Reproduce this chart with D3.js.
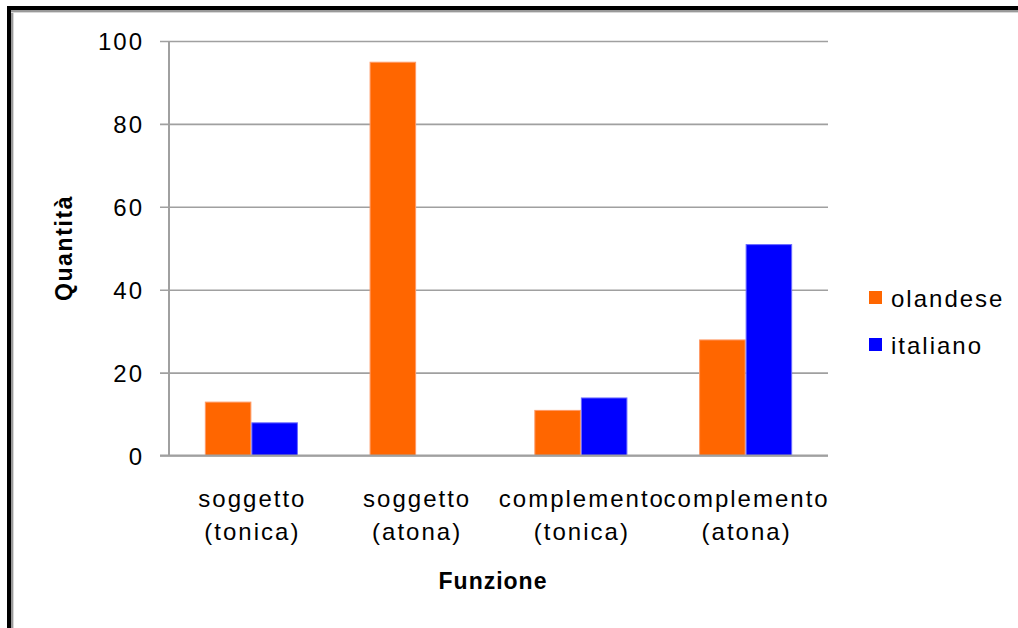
<!DOCTYPE html>
<html>
<head>
<meta charset="utf-8">
<script src="https://cdn.jsdelivr.net/npm/d3@7"></script>
<style>
  html, body { margin: 0; padding: 0; background: #fff; }
  svg { display: block; font-family: "Liberation Sans", Arial, sans-serif; }
</style>
</head>
<body>
<svg id="chart" width="1018" height="628"></svg>
<script>
// Occurrences per syntactic function, Dutch vs Italian
const categories = [
  ["soggetto", "(tonica)"],
  ["soggetto", "(atona)"],
  ["complemento", "(tonica)"],
  ["complemento", "(atona)"]
];
const seriesNames = ["olandese", "italiano"];
const olandese = [13, 95, 11, 28];
const italiano = [8, 0, 14, 51];
const yTicks = [0, 20, 40, 60, 80, 100];
const colors = ["#ff6600", "#0000ff"];
const strokes = ["#ff9a66", "#6a6aff"];

const svg = d3.select("#chart");

// outer frame (black edge with a grey inner line)
svg.append("rect").attr("x", 7).attr("y", 6).attr("width", 1011).attr("height", 4).attr("fill", "#000");
svg.append("rect").attr("x", 7).attr("y", 6).attr("width", 4).attr("height", 622).attr("fill", "#000");
svg.append("rect").attr("x", 11).attr("y", 10).attr("width", 1007).attr("height", 2).attr("fill", "#9a9a9a");
svg.append("rect").attr("x", 11).attr("y", 10).attr("width", 2).attr("height", 618).attr("fill", "#9a9a9a");
svg.append("rect").attr("x", 11).attr("y", 12).attr("width", 1007).attr("height", 1).attr("fill", "#d8d8d8");
svg.append("rect").attr("x", 13).attr("y", 12).attr("width", 1).attr("height", 616).attr("fill", "#d8d8d8");

const plot = { left: 169, right: 828, top: 41, bottom: 455.5 };

const x = d3.scaleBand()
  .domain(d3.range(categories.length))
  .range([plot.left, plot.right])
  .paddingInner(0.435)
  .paddingOuter(0.2175);

const xs = d3.scaleBand()
  .domain(seriesNames)
  .range([0, x.bandwidth()]);

const y = d3.scaleLinear().domain([0, 100]).range([plot.bottom, plot.top]);

// gridlines + ticks
const yAxis = d3.axisLeft(y).tickValues(yTicks).tickSize(plot.right - plot.left + 9).tickFormat(d3.format("d")).tickPadding(18);
const gy = svg.append("g").attr("transform", `translate(${plot.right},0)`).call(yAxis);
gy.select(".domain").remove();
gy.selectAll(".tick line").attr("stroke", "#a0a0a0").attr("stroke-width", 1.6);
gy.selectAll(".tick text")
  .attr("font-size", 24).attr("letter-spacing", 2).attr("fill", "#000")
  .attr("x", -(plot.right - 144)).attr("dy", "0.37em").attr("text-anchor", "end");

// bars
const data = categories.map((c, i) => ({ i, values: [olandese[i], italiano[i]] }));
const groups = svg.append("g").selectAll("g").data(data).join("g")
  .attr("transform", d => `translate(${x(d.i)},0)`);
groups.selectAll("rect")
  .data(d => d.values.map((v, k) => ({ v, k })).filter(e => e.v > 0))
  .join("rect")
  .attr("x", e => xs(seriesNames[e.k]) + 0.5)
  .attr("width", xs.bandwidth() - 1)
  .attr("y", e => y(e.v) + 0.5)
  .attr("height", e => y(0) - y(e.v) - 0.5)
  .attr("fill", e => colors[e.k])
  .attr("stroke", e => strokes[e.k])
  .attr("stroke-width", 1);

// axis lines
svg.append("line").attr("x1", plot.left).attr("x2", plot.left).attr("y1", plot.top).attr("y2", plot.bottom)
  .attr("stroke", "#a0a0a0").attr("stroke-width", 2);
svg.append("line").attr("x1", plot.left - 9).attr("x2", plot.right).attr("y1", plot.bottom).attr("y2", plot.bottom)
  .attr("stroke", "#a0a0a0").attr("stroke-width", 2);

// category labels
const cat = svg.append("g").selectAll("text").data(categories).join("text")
  .attr("text-anchor", "middle").attr("font-size", 24).attr("letter-spacing", 2).attr("fill", "#000")
  .attr("transform", (d, i) => `translate(${x(i) + x.bandwidth() / 2 + 1},0)`);
cat.selectAll("tspan").data(d => d).join("tspan")
  .attr("x", 0).attr("y", (d, k) => 507 + k * 33).text(d => d);

// axis titles
svg.append("text").attr("x", 493).attr("y", 589).attr("text-anchor", "middle")
  .attr("font-size", 23).attr("font-weight", "bold").attr("letter-spacing", 1).text("Funzione");
svg.append("text").attr("transform", "translate(72,248) rotate(-90)").attr("text-anchor", "middle")
  .attr("font-size", 23).attr("font-weight", "bold").attr("letter-spacing", 1.6).text("Quantità");

// legend
const legend = svg.append("g").selectAll("g").data(seriesNames).join("g")
  .attr("transform", (d, k) => `translate(869,${291 + k * 47})`);
legend.append("rect").attr("width", 13).attr("height", 13).attr("fill", (d, k) => colors[k]);
legend.append("text").attr("x", 22).attr("y", 15.5).attr("font-size", 24).attr("letter-spacing", 2)
  .attr("fill", "#000").text(d => d);
</script>
</body>
</html>
